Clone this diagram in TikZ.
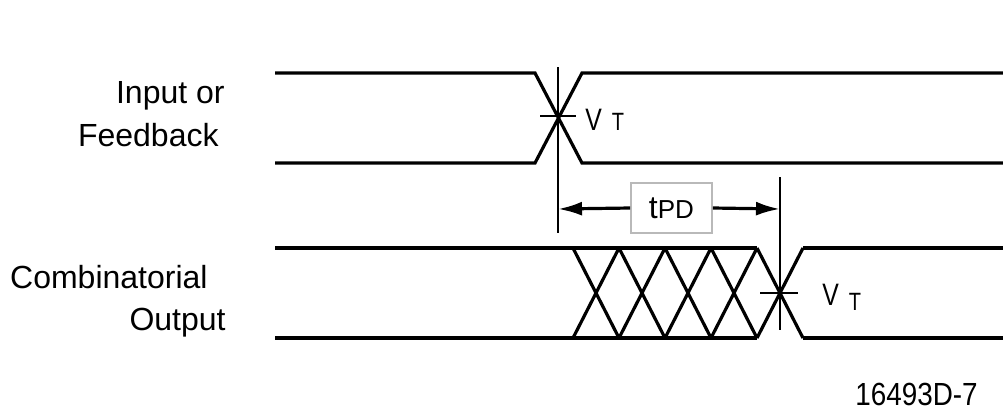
\documentclass[tikz,border=0pt]{standalone}
\usepackage{fontspec}
\setmainfont{Liberation Sans}
\usepackage{graphicx}
\usetikzlibrary{arrows.meta}
\newcommand{\cond}[2][0.8]{\scalebox{#1}[1]{#2}}
\tikzstyle{wave} = [draw,line width=1.6pt]
\tikzstyle{guide} = [draw,line width=1pt]
\tikzstyle{dim} = [draw,line width=1.6pt,-{Latex[length=12pt,width=7pt]}]
\tikzstyle{lbl} = [font=\fontsize{16}{19}\selectfont,inner sep=0pt,anchor=base east]
\tikzstyle{tbox} = [draw=gray!55,line width=0.8pt,minimum width=40.5pt,minimum height=25pt,inner sep=0pt]

\begin{document}
\begin{tikzpicture}[x=0.5pt,y=-0.5pt]
    \useasboundingbox (0,0) rectangle (1003,409);
    \node[lbl] (in1) at (225,103) {Input or};
    \node[lbl] (in2) at (219,146) {Feedback};
    \node[lbl] (out1) at (208,288) {Combinatorial};
    \node[lbl] (out2) at (226,330) {Output};
    \node[lbl,anchor=base west] (code) at (855,405) {\cond[0.87]{16493D-7}};

    \draw[wave] (275,73) -- (535,73) -- (582,163) -- (1003,163);
    \draw[wave] (275,163) -- (535,163) -- (582,73) -- (1003,73);
    \draw[wave] (275,248) -- (757,248) (275,338) -- (757,338);
    \foreach \x in {573,619,665,711,757}
        \draw[wave] (\x,248) -- (\x+46,338) (\x,338) -- (\x+46,248);
    \draw[wave] (803,248) -- (1003,248) (803,338) -- (1003,338);

    \coordinate (ta) at (558,67);
    \coordinate (ba) at (558,233);
    \coordinate (tb) at (780,177);
    \coordinate (bb) at (780,330);
    \coordinate (ga) at (558,209);
    \coordinate (gb) at (780,209);
    \draw[guide] (ta) -- (ba) (tb) -- (bb);
    \draw[guide] (540,116) -- (576,116) (760,293) -- (798,293);

    \node[anchor=base west,inner sep=0pt] (vt1) at (585,130)
        {\cond{\fontsize{15.5}{18}\selectfont V}\hspace{5pt}\cond{\fontsize{12.5}{14}\selectfont T}};
    \node[anchor=base west,inner sep=0pt] (vt2) at (822,305)
        {\cond{\fontsize{15.5}{18}\selectfont V}\hspace{5pt}\raisebox{-2.5pt}{\cond{\fontsize{12.5}{14}\selectfont T}}};

    \node[tbox] (tpd) at (671.5,208)
        {\raisebox{-4.5pt}{\fontsize{16}{18}\selectfont t\fontsize{13}{15}\selectfont PD}};
    \draw[dim] (tpd.west) -- (ga);
    \draw[dim] (tpd.east) -- (gb);
\end{tikzpicture}
\end{document}
